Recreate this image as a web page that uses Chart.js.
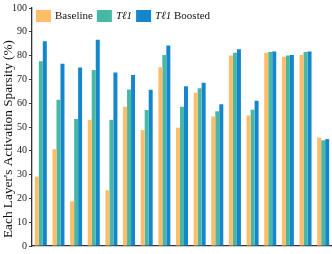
<!DOCTYPE html>
<html>
<head>
<meta charset="utf-8">
<script src="https://cdn.jsdelivr.net/npm/chart.js@4/dist/chart.umd.min.js"></script>
<style>
html,body{margin:0;padding:0;background:#fff;}
#wrap{position:relative;width:332px;height:254px;}
</style>
</head>
<body>
<div id="wrap"><canvas id="c" width="332" height="254"></canvas></div>
<script>
const categories = ["L1","L2","L3","L4","L5","L6","L7","L8","L9","L10","L11","L12","L13","L14","L15","L16","L17"];
const seriesNames = ["Baseline", "T\u21131", "T\u21131 Boosted"];
const baseline = [29.1, 40.7, 18.8, 53.0, 23.4, 58.5, 48.7, 75.1, 49.7, 64.4, 54.4, 80.0, 54.8, 81.2, 79.5, 80.2, 45.5];
const tl1      = [77.6, 61.5, 53.4, 74.0, 53.0, 65.8, 57.1, 80.2, 58.5, 66.3, 56.6, 81.2, 57.3, 81.5, 80.0, 81.5, 44.4];
const tl1Boost = [86.0, 76.6, 75.0, 86.7, 72.9, 71.8, 65.6, 84.2, 67.1, 68.6, 59.6, 82.7, 61.0, 81.7, 80.2, 81.7, 44.9];
const yTicks = [0,10,20,30,40,50,60,70,80,90,100];
const yTitle = "Each Layer's Activation Sparsity (%)";
const colors = ["#FFBD69", "#47B7A6", "#1586CC"];

const SERIF = "'Liberation Serif', 'DejaVu Serif', serif";

const legendPlugin = {
  id: 'mixedLegend',
  afterDraw(chart) {
    const ctx = chart.ctx;
    ctx.save();
    let x = 36;
    const top = 10, bw = 15, bh = 12;
    const cy = top + bh / 2 + 0.5;
    ctx.textBaseline = 'middle';
    chart.data.datasets.forEach((ds) => {
      ctx.fillStyle = ds.backgroundColor;
      ctx.fillRect(x, top, bw, bh);
      x += bw + 4;
      ctx.fillStyle = '#111';
      const label = ds.label;
      const m = label.match(/^(T\u21131)(.*)$/);
      if (m) {
        ctx.font = "italic 11px " + SERIF;
        ctx.fillText(m[1], x, cy);
        x += ctx.measureText(m[1]).width;
        if (m[2]) {
          ctx.font = "11px " + SERIF;
          ctx.fillText(m[2], x, cy);
          x += ctx.measureText(m[2]).width;
        }
      } else {
        ctx.font = "11px " + SERIF;
        ctx.fillText(label, x, cy);
        x += ctx.measureText(label).width;
      }
      x += 4;
    });
    ctx.restore();
  }
};

const yTitlePlugin = {
  id: 'yTitle',
  afterDraw(chart) {
    const ctx = chart.ctx;
    ctx.save();
    ctx.translate(8.5, 139);
    ctx.rotate(-Math.PI / 2);
    ctx.font = "13.3px " + SERIF;
    ctx.fillStyle = '#111';
    ctx.textAlign = 'center';
    ctx.textBaseline = 'middle';
    ctx.fillText(yTitle, 0, 0);
    ctx.restore();
  }
};

new Chart(document.getElementById('c'), {
  type: 'bar',
  data: {
    labels: categories,
    datasets: [
      { label: seriesNames[0], data: baseline, backgroundColor: colors[0] },
      { label: seriesNames[1], data: tl1, backgroundColor: colors[1] },
      { label: seriesNames[2], data: tl1Boost, backgroundColor: colors[2] }
    ]
  },
  options: {
    responsive: false,
    animation: false,
    devicePixelRatio: 1,
    layout: { padding: { top: 1, right: 0, bottom: 0, left: 0 } },
    datasets: { bar: { categoryPercentage: 0.68, barPercentage: 1.0, borderWidth: 0 } },
    plugins: { legend: { display: false }, tooltip: { enabled: false } },
    scales: {
      x: {
        grid: { display: false },
        border: { display: true, color: '#333', width: 1.3 },
        ticks: { display: false },
        afterFit(scale) { scale.height = 7; }
      },
      y: {
        min: 0, max: 100,
        afterBuildTicks(scale) { scale.ticks = yTicks.map(v => ({ value: v })); },
        afterFit(scale) { scale.width = 32; },
        grid: { drawOnChartArea: false, drawTicks: true, tickLength: 3, color: '#333' },
        border: { display: true, color: '#333', width: 1.3 },
        ticks: { font: { family: SERIF, size: 10 }, color: '#222', padding: 2 },
        title: { display: false }
      }
    }
  },
  plugins: [legendPlugin, yTitlePlugin]
});
</script>
</body>
</html>
